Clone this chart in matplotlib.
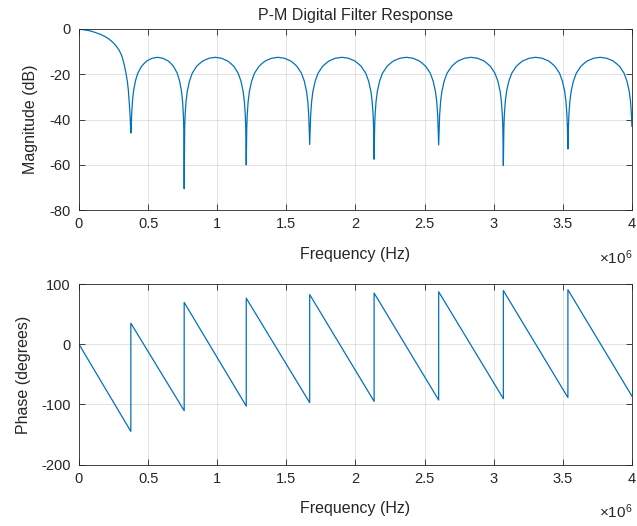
import matplotlib
matplotlib.use("Agg")
import matplotlib.pyplot as plt

plt.rcParams['font.family'] = ['Liberation Sans', 'DejaVu Sans']
plt.rcParams['axes.unicode_minus'] = False
plt.rcParams['mathtext.fontset'] = 'custom'
plt.rcParams['mathtext.rm'] = 'Liberation Sans'

# frequencies are in MHz, the axes show Hz with a x10^6 multiplier
# main lobe of the magnitude response
main_f = [0.0, 0.03, 0.06, 0.09, 0.12, 0.155, 0.19, 0.215, 0.24, 0.265, 0.29,
          0.31, 0.325, 0.338, 0.35, 0.357, 0.362, 0.367, 0.371]
main_db = [-0.3, -0.4, -0.7, -1.1, -1.7, -2.5, -3.5, -4.5, -5.7, -7.3, -9.4,
           -12.0, -15.3, -19.0, -23.3, -27.0, -31.0, -35.5, -40.0]

# nulls of the magnitude response
null_f = [0.375, 0.761, 1.210, 1.669, 2.135, 2.602, 3.070, 3.537]
null_db = [-46.0, -70.5, -60.0, -51.0, -57.5, -51.2, -60.3, -53.0]

# side lobes: peak level, and the shape of one lobe between two nulls
lobe_peak_db = [-12.6, -12.6, -12.6, -12.6, -12.6, -12.6, -12.6, -12.6]
lobe_t = [0.008, 0.015, 0.03, 0.05, 0.085, 0.13, 0.2, 0.25, 0.3, 0.4, 0.5,
          0.6, 0.7, 0.75, 0.8, 0.87, 0.915, 0.95, 0.97, 0.985, 0.992]
lobe_drop = [-31.0, -25.5, -19.5, -15.0, -10.5, -7.0, -4.0, -2.7, -1.6, -0.4, 0.0,
             -0.4, -1.6, -2.7, -4.0, -7.0, -10.5, -15.0, -19.5, -25.5, -31.0]
last_null_f = 4.004
edge_f, edge_db = 4.0, -43.0

# phase response vertices (MHz, degrees)
phase_f = [0.0, 0.375, 0.375, 0.761, 0.761, 1.210, 1.210, 1.669, 1.669,
           2.135, 2.135, 2.602, 2.602, 3.070, 3.070, 3.537, 3.537, 4.0]
phase_deg = [0.0, -144.6, 35.0, -110.3, 69.5, -102.6, 76.5, -97.0, 82.5,
             -94.8, 85.0, -92.6, 87.2, -90.4, 89.2, -88.5, 90.5, -86.0]

xtick_vals = [0, 0.5, 1, 1.5, 2, 2.5, 3, 3.5, 4]
xtick_labels = ['0', '0.5', '1', '1.5', '2', '2.5', '3', '3.5', '4']

# put the lobes together into one curve
mag_f = list(main_f)
mag_db = list(main_db)
right_nulls = null_f[1:] + [last_null_f]
for i, (a, b) in enumerate(zip(null_f, right_nulls)):
    mag_f.append(a)
    mag_db.append(null_db[i])
    for t, d in zip(lobe_t, lobe_drop):
        f = a + t * (b - a)
        if f < edge_f:
            mag_f.append(f)
            mag_db.append(lobe_peak_db[i] + d)
mag_f.append(edge_f)
mag_db.append(edge_db)

line_color = '#0072BD'
axis_color = '#262626'

fig = plt.figure(figsize=(6.37, 5.26), dpi=100)
ax1 = fig.add_axes([0.124, 0.6002, 0.868, 0.3452])
ax2 = fig.add_axes([0.124, 0.1165, 0.868, 0.3435])

ax1.plot([f * 1e6 for f in mag_f], mag_db, color=line_color, lw=0.9)
ax2.plot([f * 1e6 for f in phase_f], phase_deg, color=line_color, lw=0.9)

ax1.set_ylim(-80, 0)
ax1.set_yticks([-80, -60, -40, -20, 0])
ax2.set_ylim(-200, 100)
ax2.set_yticks([-200, -100, 0, 100])

for ax in (ax1, ax2):
    ax.set_xlim(0, 4e6)
    ax.set_xticks([v * 1e6 for v in xtick_vals])
    ax.set_xticklabels(xtick_labels)
    ax.grid(True, color=axis_color, alpha=0.15, lw=0.6)
    ax.set_axisbelow(True)
    ax.tick_params(direction='in', top=True, right=True, length=4, width=0.6,
                   labelsize=10.5, colors=axis_color)
    ax.tick_params(axis='x', pad=5)
    ax.tick_params(axis='y', pad=6)
    for s in ax.spines.values():
        s.set_color(axis_color)
        s.set_linewidth(0.6)
    ax.set_xlabel('Frequency (Hz)', fontsize=11.5, color=axis_color, labelpad=11)
    ax.text(1.0, -0.21, r'$\times\mathregular{10^{6}}$', transform=ax.transAxes,
            ha='right', va='top', fontsize=11, color=axis_color)

ax1.set_ylabel('Magnitude (dB)', fontsize=11.5, color=axis_color, labelpad=8)
ax2.set_ylabel('Phase (degrees)', fontsize=11.5, color=axis_color, labelpad=7)
ax1.set_title('P-M Digital Filter Response', fontsize=11.5, color=axis_color, pad=6)

fig.savefig('out.png', dpi=100)
